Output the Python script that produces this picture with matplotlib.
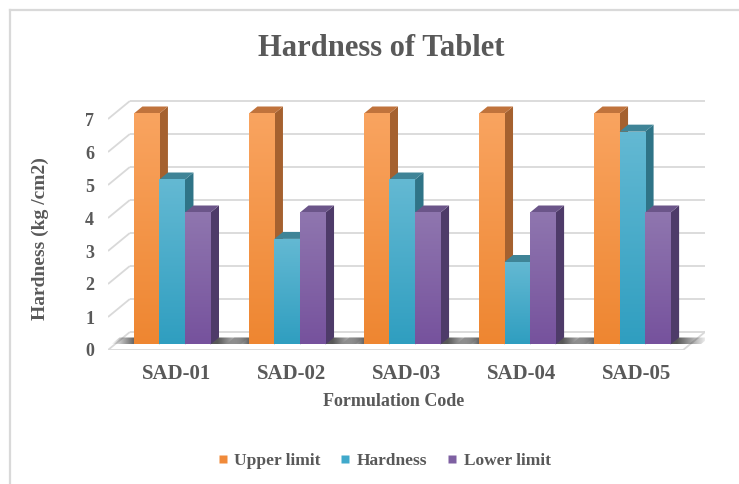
import numpy as np
import matplotlib
matplotlib.use("Agg")
import matplotlib.pyplot as plt
from matplotlib.patches import Polygon
from matplotlib.lines import Line2D
from matplotlib.colors import to_rgb

# ---- data -------------------------------------------------------------
categories = ["SAD-01", "SAD-02", "SAD-03", "SAD-04", "SAD-05"]
upper_limit = [7, 7, 7, 7, 7]
hardness = [5.0, 3.2, 5.0, 2.5, 6.45]
lower_limit = [4, 4, 4, 4, 4]
series_names = ["Upper limit", "Hardness", "Lower limit"]
y_ticks = [0, 1, 2, 3, 4, 5, 6, 7]

series = [upper_limit, hardness, lower_limit]

# ---- styling ----------------------------------------------------------
front_top = ["#F9A460", "#64B9D3", "#8F76AF"]
front_bottom = ["#EE8631", "#2F9EC0", "#76529D"]
side_col = ["#A5612F", "#2F7487", "#4E3B69"]
top_col = ["#C0733C", "#3F8497", "#6B5589"]
legend_col = ["#F08A3A", "#40A9CB", "#7E60A2"]

TEXT = "#595959"
GRID = "#D9D9D9"
SERIF = "Liberation Serif"

# oblique projection of the 3-D box (data units)
DX, DY = 0.19, 0.545      # full floor depth
F0, FD = 0.306, 0.389     # bar front plane / bar depth, as fraction of floor depth
BAR_W = 0.222

ymax = y_ticks[-1]
fig = plt.figure(figsize=(7.39, 4.84), dpi=100)
ax_h = 33 * (ymax + DY + 0.06) / 484
ax = fig.add_axes([108 / 739, 134 / 484, 597 / 739, ax_h])
ax.set_xlim(-0.5, len(categories) - 0.5 + DX)
ax.set_ylim(0, ymax + DY + 0.06)
for sp in ax.spines.values():
    sp.set_visible(False)
ax.patch.set_visible(False)

# ---- walls and floor --------------------------------------------------
x_left = -0.5
x_right = len(categories) - 0.5
for v in y_ticks:
    ax.plot([x_left, x_left + DX], [v, v + DY], color=GRID, lw=1.3, zorder=1,
            solid_capstyle="butt")
    ax.plot([x_left + DX, x_right + DX], [v + DY, v + DY], color=GRID, lw=1.3,
            zorder=1, solid_capstyle="butt")
ax.plot([x_left, x_right], [0, 0], color=GRID, lw=1.3, zorder=1)
ax.plot([x_right, x_right + DX], [0, DY], color=GRID, lw=1.3, zorder=1)

# ---- floor shadows ----------------------------------------------------
n_series = len(series)
for i in range(len(categories)):
    gl = i - n_series / 2 * BAR_W
    gr = i + n_series / 2 * BAR_W
    sl, sr = gl - 0.2, gr + 0.26
    y0, y1 = F0 * DY, (F0 + FD) * DY
    poly = Polygon([(sl + F0 * DX, y0), (sr + F0 * DX, y0),
                    (sr + (F0 + FD) * DX, y1), (sl + (F0 + FD) * DX, y1)],
                   closed=True, facecolor="none", edgecolor="none")
    ax.add_patch(poly)
    xs = np.linspace(sl, sr, 200)
    alpha = np.interp(xs, [sl, gl, gr, sr], [0.0, 0.85, 0.85, 0.0])
    img = np.zeros((2, 200, 4))
    img[..., :3] = to_rgb("#3A3A3A")
    img[..., 3] = alpha
    im = ax.imshow(img, extent=[sl + F0 * DX, sr + (F0 + FD) * DX, y0, y1],
                   origin="lower", aspect="auto", zorder=2, interpolation="bilinear")
    im.set_clip_path(poly)

# ---- 3-D columns --------------------------------------------------------
grad = np.linspace(0, 1, 256).reshape(-1, 1)
for i in range(len(categories)):
    for s, vals in enumerate(series):
        v = vals[i]
        z = 3 + i * 10 + s * 3
        x0 = i - n_series / 2 * BAR_W + s * BAR_W + F0 * DX
        x1 = x0 + BAR_W
        yb = F0 * DY
        yt = yb + v
        ddx, ddy = FD * DX, FD * DY
        # right side face
        ax.add_patch(Polygon([(x1, yb), (x1 + ddx, yb + ddy), (x1 + ddx, yt + ddy), (x1, yt)],
                             closed=True, facecolor=side_col[s], edgecolor="none", zorder=z))
        # top face
        ax.add_patch(Polygon([(x0, yt), (x1, yt), (x1 + ddx, yt + ddy), (x0 + ddx, yt + ddy)],
                             closed=True, facecolor=top_col[s], edgecolor="none", zorder=z + 1))
        # front face with vertical gradient
        bar = ax.bar(x0, v, width=BAR_W, bottom=yb, align="edge",
                     color=front_bottom[s], edgecolor="none", zorder=z + 2)[0]
        c0 = np.array(to_rgb(front_bottom[s]))
        c1 = np.array(to_rgb(front_top[s]))
        img = c0 + (c1 - c0) * grad[..., None]
        img = np.repeat(img, 2, axis=1)
        im = ax.imshow(img, extent=[x0, x1, yb, yt], origin="lower", aspect="auto",
                       zorder=z + 2.5, interpolation="bilinear")
        im.set_clip_path(bar)

# ---- ticks --------------------------------------------------------------
ax.set_yticks(y_ticks)
ax.set_yticklabels([str(t) for t in y_ticks])
ax.set_xticks([i + (F0 + FD / 2) * DX for i in range(len(categories))])
ax.set_xticklabels(categories)
ax.tick_params(axis="y", length=0, pad=10, labelsize=13, labelcolor=TEXT)
ax.tick_params(axis="x", length=0, pad=10, labelsize=15, labelcolor=TEXT)
for lab in ax.get_xticklabels() + ax.get_yticklabels():
    lab.set_fontfamily(SERIF)
    lab.set_fontweight("bold")

# ---- titles -------------------------------------------------------------
fig.text(381 / 739, 1 - 48 / 484, "Hardness of Tablet", ha="center", va="center",
         fontsize=22, fontweight="bold", family=SERIF, color=TEXT)
fig.text(40 / 739, 1 - 239 / 484, "Hardness (kg /cm2)", ha="center", va="center",
         rotation=90, fontsize=14, fontweight="bold", family=SERIF, color=TEXT)
fig.text(394 / 739, 1 - 402 / 484, "Formulation Code", ha="center", va="center",
         fontsize=13, fontweight="bold", family=SERIF, color=TEXT)

# ---- legend -------------------------------------------------------------
handles = [Line2D([], [], linestyle="none", marker="s", markersize=6,
                  markerfacecolor=c, markeredgecolor="none") for c in legend_col]
leg = fig.legend(handles, series_names, loc="center", bbox_to_anchor=(384 / 739, 1 - 461 / 484),
                 ncol=3, frameon=False, handlelength=0.6, handletextpad=0.35,
                 columnspacing=1.15, prop={"family": SERIF, "weight": "bold", "size": 12.5})
for t in leg.get_texts():
    t.set_color(TEXT)

# ---- chart frame --------------------------------------------------------
fig.add_artist(Line2D([10 / 739, 10 / 739], [0, 1 - 10 / 484], transform=fig.transFigure,
                      color=GRID, lw=1.6))
fig.add_artist(Line2D([10 / 739, 1], [1 - 10 / 484, 1 - 10 / 484], transform=fig.transFigure,
                      color=GRID, lw=1.6))

fig.savefig("out.png", dpi=100, facecolor="white")
